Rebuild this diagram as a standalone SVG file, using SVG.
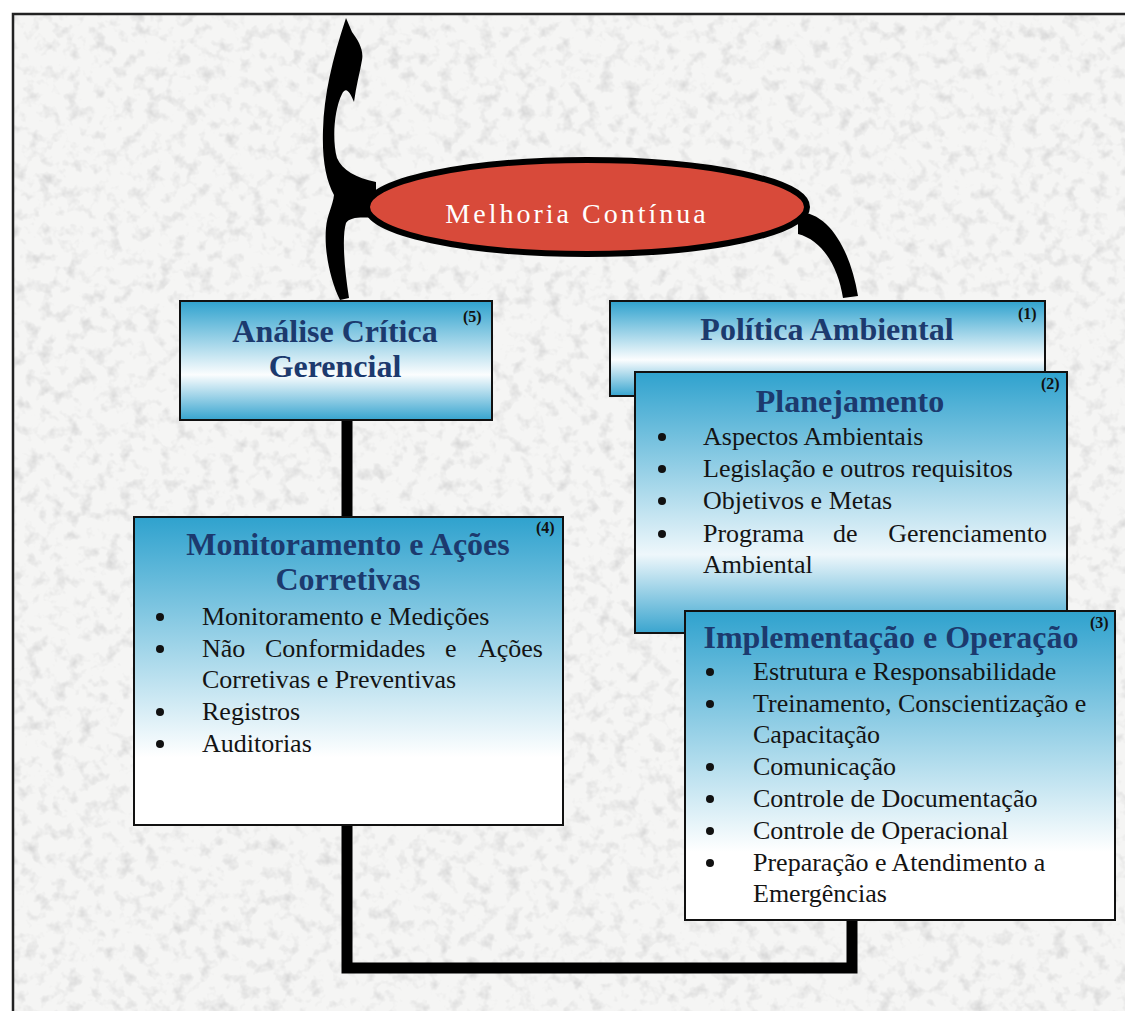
<svg xmlns="http://www.w3.org/2000/svg" width="1125" height="1011" viewBox="0 0 1125 1011">
  <defs>
    <!-- speckled granite paper -->
    <filter id="grain" x="0" y="0" width="100%" height="100%">
      <feTurbulence type="fractalNoise" baseFrequency="0.075" numOctaves="3" seed="7" result="n"/>
      <feColorMatrix in="n" type="matrix" values="0 0 0 0 0.68  0 0 0 0 0.68  0 0 0 0 0.68  2.4 0 0 0 -1.2"/>
    </filter>
    <linearGradient id="blueBand" x1="0" y1="0" x2="0" y2="1">
      <stop offset="0" stop-color="#2fa2ce"/>
      <stop offset="0.62" stop-color="#fbfdfe"/>
      <stop offset="1" stop-color="#36a4cf"/>
    </linearGradient>
    <linearGradient id="blueBandTall" x1="0" y1="0" x2="0" y2="1">
      <stop offset="0" stop-color="#2fa2ce"/>
      <stop offset="0.7" stop-color="#eef7fb"/>
      <stop offset="1" stop-color="#3aa5cf"/>
    </linearGradient>
    <linearGradient id="blueFade" x1="0" y1="0" x2="0" y2="1">
      <stop offset="0" stop-color="#2fa2ce"/>
      <stop offset="0.78" stop-color="#ffffff"/>
      <stop offset="1" stop-color="#ffffff"/>
    </linearGradient>
    <style>
      .box { stroke: #111; stroke-width: 2; }
      .title { font-family: "Liberation Serif", "Times New Roman", serif; font-weight: bold; font-size: 32px; fill: #1c3a6e; text-anchor: middle; }
      .item { font-family: "Liberation Serif", "Times New Roman", serif; font-size: 26px; fill: #141414; }
      .num { font-family: "Liberation Serif", "Times New Roman", serif; font-weight: bold; font-size: 16px; fill: #111; }
      .dot { fill: #111; }
      .wire { fill: none; stroke: #000; stroke-width: 11; stroke-linejoin: miter; stroke-linecap: butt; }
      .oval-label { font-family: "Liberation Serif", "Times New Roman", serif; font-size: 28px; letter-spacing: 3px; fill: #fff; text-anchor: middle; }
    </style>
  </defs>

  <!-- page and frame -->
  <rect x="0" y="0" width="1125" height="1011" fill="#ffffff"/>
  <rect x="13" y="14" width="1112" height="997" fill="#f5f5f4"/>
  <rect x="13" y="14" width="1112" height="997" filter="url(#grain)"/>
  <path d="M13 1011 V14 H1125" fill="none" stroke="#222" stroke-width="2.5"/>

  <!-- connectors -->
  <g id="connectors">
    <path class="wire" d="M347 420 V517"/>
    <path class="wire" d="M347 825 V968 H852 V920"/>
    <!-- curved arrow rising from the review box through the ellipse -->
    <path fill="#000" d="M346 18 L352 32 C358 40 364 50 362 60 C360 72 356 86 354 102 C350 92 346 86 342 94 C334 110 332 140 337 158 C342 170 356 178 376 182 L376 218 C360 217 350 217 346 223 C342 236 344 266 349 298 L340 300 C330 280 324 250 326 228 C327 215 333 205 334 195 C326 180 322 160 323 130 C324 95 332 60 346 18 Z"/>
    <!-- tail dropping from the ellipse to the policy box -->
    <path fill="#000" d="M798 212 C828 212 850 248 858 296 L843 298 C838 266 822 240 798 234 Z"/>
  </g>

  <g id="melhoria">
    <ellipse cx="587" cy="207" rx="220" ry="47" fill="#d84a3a" stroke="#000" stroke-width="6"/>
    <text class="oval-label" x="577" y="223">Melhoria Contínua</text>
  </g>

  <g id="analise">
    <rect class="box" x="180" y="301" width="312" height="119" fill="url(#blueBand)"/>
    <text class="title" x="335" y="342">Análise Crítica</text>
    <text class="title" x="335" y="377">Gerencial</text>
    <text class="num" x="463" y="322">(5)</text>
  </g>

  <g id="politica">
    <rect class="box" x="610" y="301" width="435" height="95" fill="url(#blueBand)"/>
    <text class="title" x="827" y="340">Política Ambiental</text>
    <text class="num" x="1018" y="319">(1)</text>
  </g>

  <g id="planejamento">
    <rect class="box" x="635" y="372" width="432" height="261" fill="url(#blueBandTall)"/>
    <text class="title" x="850" y="412">Planejamento</text>
    <text class="num" x="1041" y="389">(2)</text>
    <circle class="dot" cx="662" cy="437" r="4"/>
    <text class="item" x="703" y="445">Aspectos Ambientais</text>
    <circle class="dot" cx="662" cy="469" r="4"/>
    <text class="item" x="703" y="477">Legislação e outros requisitos</text>
    <circle class="dot" cx="662" cy="501" r="4"/>
    <text class="item" x="703" y="509">Objetivos e Metas</text>
    <circle class="dot" cx="662" cy="534" r="4"/>
    <text class="item" x="703" y="542">Programa</text>
    <text class="item" x="833" y="542">de</text>
    <text class="item" x="1047" y="542" text-anchor="end">Gerenciamento</text>
    <text class="item" x="703" y="573">Ambiental</text>
  </g>

  <g id="monitoramento">
    <rect class="box" x="134" y="517" width="429" height="308" fill="url(#blueFade)"/>
    <text class="title" x="348" y="555">Monitoramento e Ações</text>
    <text class="title" x="348" y="590">Corretivas</text>
    <text class="num" x="536" y="533">(4)</text>
    <circle class="dot" cx="160" cy="617" r="4"/>
    <text class="item" x="202" y="625">Monitoramento e Medições</text>
    <circle class="dot" cx="160" cy="649" r="4"/>
    <text class="item" x="202" y="657">Não</text>
    <text class="item" x="265" y="657">Conformidades</text>
    <text class="item" x="445" y="657">e</text>
    <text class="item" x="543" y="657" text-anchor="end">Ações</text>
    <text class="item" x="202" y="688">Corretivas e Preventivas</text>
    <circle class="dot" cx="160" cy="712" r="4"/>
    <text class="item" x="202" y="720">Registros</text>
    <circle class="dot" cx="160" cy="744" r="4"/>
    <text class="item" x="202" y="752">Auditorias</text>
  </g>

  <g id="implementacao">
    <rect class="box" x="685" y="611" width="430" height="309" fill="url(#blueFade)"/>
    <text class="title" x="891" y="648">Implementação e Operação</text>
    <text class="num" x="1090" y="628">(3)</text>
    <circle class="dot" cx="710" cy="672" r="4"/>
    <text class="item" x="753" y="680">Estrutura e Responsabilidade</text>
    <circle class="dot" cx="710" cy="704" r="4"/>
    <text class="item" x="753" y="712">Treinamento, Conscientização e</text>
    <text class="item" x="753" y="743">Capacitação</text>
    <circle class="dot" cx="710" cy="767" r="4"/>
    <text class="item" x="753" y="775">Comunicação</text>
    <circle class="dot" cx="710" cy="799" r="4"/>
    <text class="item" x="753" y="807">Controle de Documentação</text>
    <circle class="dot" cx="710" cy="831" r="4"/>
    <text class="item" x="753" y="839">Controle de Operacional</text>
    <circle class="dot" cx="710" cy="863" r="4"/>
    <text class="item" x="753" y="871">Preparação e Atendimento a</text>
    <text class="item" x="753" y="902">Emergências</text>
  </g>
</svg>
